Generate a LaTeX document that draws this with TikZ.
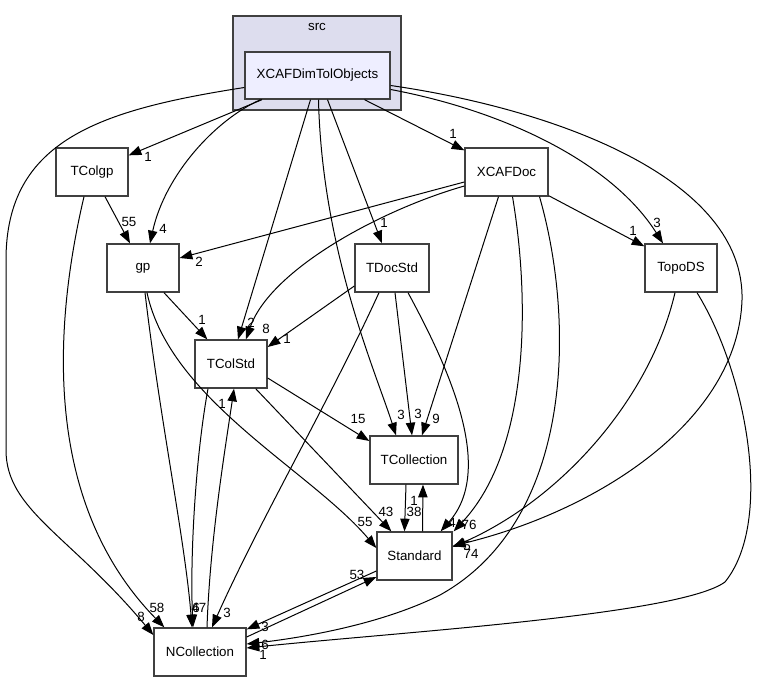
\documentclass[tikz,border=0pt]{standalone}
\usepackage{fontspec}
\setmainfont{Liberation Sans}
\usepackage{tikz}
\usetikzlibrary{calc,arrows.meta}
\definecolor{clusterfill}{HTML}{DDDDEE}
\definecolor{mainfill}{HTML}{EEEEFF}
\tikzstyle{cluster} = [rectangle, minimum width=126pt, minimum height=70.5pt, draw=black!75, line width=1pt, fill=clusterfill]
\tikzstyle{dir} = [rectangle, minimum width=54pt, minimum height=36pt, inner sep=0pt, text centered, draw=black!75, line width=1pt, fill=white]
\tikzstyle{maindir} = [dir, minimum width=108.75pt, minimum height=35.25pt, fill=mainfill]
\tikzstyle{dep} = [line width=0.75pt, -{Triangle[length=9.5pt,width=7pt]}]
\tikzstyle{lbl} = [inner sep=0pt]

\begin{document}
\begin{tikzpicture}[x=0.75pt,y=-0.75pt]
\useasboundingbox (0,0) rectangle (765,681);
\node (src) [cluster] at (317,63) {};
\node (srclabel) at (317,27) {src};
\node (xdto) [maindir] at (317.5,75.5) {XCAFDimTolObjects};
\node (tcolgp) [dir] at (92,172) {TColgp};
\node (gp) [dir] at (143,268) {gp};
\node (xcafdoc) [dir, minimum width=62.25pt] at (506.5,172) {XCAFDoc};
\node (tdocstd) [dir, minimum width=55.5pt] at (392,268) {TDocStd};
\node (topods) [dir] at (681,268) {TopoDS};
\node (tcolstd) [dir] at (231,364) {TColStd};
\node (tcollection) [dir, minimum width=66pt] at (414,460) {TCollection};
\node (standard) [dir, minimum width=56.25pt] at (414.5,556) {Standard};
\node (ncollection) [dir, minimum width=69pt] at (200,652) {NCollection};

% from XCAFDimTolObjects
\draw [dep] ($(xdto.south)+(-55.5,0)$) -- ($(tcolgp.north east)+(0,8)$) node[lbl] at (148,157) {1};
\draw [dep] ($(xdto.south)+(-57,0)$) .. controls (215,120) and (165,175) .. ($(gp.north)+(7,0)$) node[lbl] at (163,229) {4};
\draw [dep] ($(xdto.south)+(-7,0)$) -- ($(tcolstd.north)+(7,0)$) node[lbl] at (251,323) {2};
\draw [dep] ($(xdto.south)+(1,0)$) .. controls (322,250) and (375,370) .. ($(tcollection.north)+(-18,0)$) node[lbl] at (401,415) {3};
\draw [dep] ($(xdto.south)+(10,0)$) -- ($(tdocstd.north)+(-10,0)$) node[lbl] at (384,223) {1};
\draw [dep] ($(xdto.south)+(47,0)$) -- ($(xcafdoc.north west)+(0,3)$) node[lbl] at (453,134) {1};
\draw [dep] ($(xdto.east)+(0,14)$) .. controls (500,110) and (610,160) .. ($(topods.north)+(-18,0)$) node[lbl] at (657,223) {3};
\draw [dep] ($(xdto.east)+(0,10)$) .. controls (560,110) and (745,180) .. (742,300) .. controls (738,420) and (600,510) .. ($(standard.east)+(0,-10)$) node[lbl] at (467,546) {5};
\draw [dep] ($(xdto.west)+(0,12)$) .. controls (100,110) and (6,140) .. (6,260) -- (6,450) .. controls (6,510) and (70,535) .. ($(ncollection.west)+(0,-17)$) node[lbl] at (141,617) {8};

% from TColgp
\draw [dep] ($(tcolgp.south)+(13,0)$) -- ($(gp.north)+(-13,0)$) node[lbl] at (129,222) {55};
\draw [dep] ($(tcolgp.south)+(-8,0)$) .. controls (55,320) and (40,500) .. ($(ncollection.north west)+(11,0)$) node[lbl] at (157,608) {58};

% from XCAFDoc
\draw [dep] ($(xcafdoc.west)+(0,10)$) -- ($(gp.east)+(0,-10)$) node[lbl] at (199,262) {2};
\draw [dep] ($(xcafdoc.west)+(0,14)$) .. controls (380,210) and (270,270) .. ($(tcolstd.north)+(15,0)$) node[lbl] at (266,329) {8};
\draw [dep] ($(xcafdoc.south)+(-8,0)$) -- ($(tcollection.north)+(8,0)$) node[lbl] at (436,419) {9};
\draw [dep] ($(xcafdoc.south)+(6,0)$) .. controls (530,300) and (530,450) .. ($(standard.north east)+(1,0)$) node[lbl] at (469,525) {76};
\draw [dep] ($(xcafdoc.south)+(33,0)$) .. controls (575,320) and (575,520) .. (440,595) .. controls (380,625) and (300,638) .. ($(ncollection.east)+(0,-8)$) node[lbl] at (265,645) {6};
\draw [dep] ($(xcafdoc.south east)+(0,-1)$) -- ($(topods.north west)+(0,3)$) node[lbl] at (633,231) {1};

% from gp
\draw [dep] ($(gp.south)+(21,0)$) -- ($(tcolstd.north west)+(13,0)$) node[lbl] at (202,320) {1};
\draw [dep] ($(gp.south)+(4,0)$) .. controls (170,400) and (310,470) .. ($(standard.west)+(0,-8)$) node[lbl] at (365,522) {55};
\draw [dep] ($(gp.south)+(2,0)$) .. controls (160,420) and (185,540) .. ($(ncollection.north)+(-8,0)$) node[lbl] at (196,608) {6};

% from TDocStd
\draw [dep] ($(tdocstd.west)+(0,18)$) -- ($(tcolstd.east)+(0,-17)$) node[lbl] at (287,339) {1};
\draw [dep] ($(tdocstd.south)+(3,0)$) -- ($(tcollection.north)+(-2,0)$) node[lbl] at (418,414) {3};
\draw [dep] ($(tdocstd.south)+(16,0)$) .. controls (450,370) and (495,470) .. ($(standard.north east)+(-12,0)$) node[lbl] at (452,523) {4};
\draw [dep] ($(tdocstd.south)+(-13,0)$) .. controls (330,400) and (260,520) .. ($(ncollection.north)+(12,0)$) node[lbl] at (227,613) {3};

% from TColStd
\draw [dep] ($(tcolstd.east)+(0,14)$) -- ($(tcollection.west)+(0,-19)$) node[lbl] at (358,419) {15};
\draw [dep] ($(tcolstd.south east)+(-12,0)$) -- ($(standard.north west)+(15,0)$) node[lbl] at (386,512) {43};
\draw [dep] ($(tcolstd.south)+(-23,0)$) .. controls (195,460) and (190,560) .. ($(ncollection.north)+(-7,0)$) node[lbl] at (199,608) {47};

% from TCollection, Standard, NCollection
\draw [dep] ($(tcollection.south)+(-8,0)$) -- ($(standard.north)+(-10,0)$) node[lbl] at (414,512) {38};
\draw [dep] ($(standard.north)+(8,0)$) -- ($(tcollection.south)+(9,0)$) node[lbl] at (414,501) {1};
\draw [dep] ($(standard.west)+(0,15)$) -- ($(ncollection.north east)+(0,2)$) node[lbl] at (265,627) {3};
\draw [dep] ($(ncollection.east)+(0,-15)$) -- ($(standard.west)+(0,21)$) node[lbl] at (357,575) {53};
\draw [dep] ($(ncollection.north)+(7,0)$) .. controls (210,540) and (225,450) .. ($(tcolstd.south)+(3,0)$) node[lbl] at (222,404) {1};

% from TopoDS
\draw [dep] ($(topods.south)+(-6,0)$) .. controls (650,400) and (560,500) .. ($(standard.east)+(0,-9)$) node[lbl] at (471,554) {74};
\draw [dep] ($(topods.south)+(16,0)$) .. controls (745,370) and (775,520) .. (725,582) .. controls (680,615) and (400,632) .. ($(ncollection.east)+(0,-4)$) node[lbl] at (263,655) {1};

\end{tikzpicture}
\end{document}
